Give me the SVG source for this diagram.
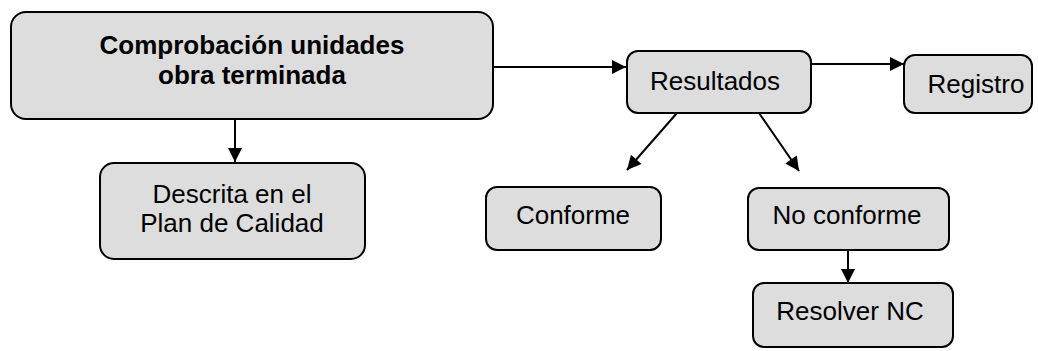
<svg xmlns="http://www.w3.org/2000/svg" width="1038" height="351" viewBox="0 0 1038 351">
  <style>
    .box { fill: #dddddd; stroke: #000000; stroke-width: 2; }
    .lbl { font-family: "Liberation Sans", Arial, sans-serif; font-size: 26px; fill: #000000; text-anchor: middle; }
    .bold { font-weight: bold; }
    .link { fill: none; stroke: #000000; stroke-width: 2; marker-end: url(#arrow); }
  </style>
  <defs>
    <marker id="arrow" markerUnits="userSpaceOnUse" markerWidth="16" markerHeight="16" viewBox="0 0 16 16" refX="15" refY="8" orient="auto">
      <path d="M1,1 L15,8 L1,15 Z" fill="#000000"/>
    </marker>
  </defs>

  <!-- connectors -->
  <g id="connectors">
    <line class="link" x1="493" y1="67" x2="626" y2="67"/>
    <line class="link" x1="811" y1="64" x2="904" y2="64"/>
    <line class="link" x1="235" y1="119" x2="235" y2="162"/>
    <line class="link" x1="677" y1="113" x2="627" y2="170"/>
    <line class="link" x1="759" y1="113" x2="799" y2="171"/>
    <line class="link" x1="848" y1="250" x2="848" y2="283"/>
  </g>

  <g id="node-comprobacion">
    <rect class="box" x="11" y="12" width="482" height="107" rx="15" ry="15"/>
    <text class="lbl bold" x="252" y="54">Comprobación unidades</text>
    <text class="lbl bold" x="252" y="84">obra terminada</text>
  </g>

  <g id="node-descrita">
    <rect class="box" x="100" y="163" width="265" height="96" rx="14" ry="14"/>
    <text class="lbl" x="232" y="203">Descrita en el</text>
    <text class="lbl" x="232" y="232">Plan de Calidad</text>
  </g>

  <g id="node-resultados">
    <rect class="box" x="627" y="51" width="184" height="62" rx="11" ry="11"/>
    <text class="lbl" x="715" y="90">Resultados</text>
  </g>

  <g id="node-registro">
    <rect class="box" x="904" y="55" width="128" height="58" rx="11" ry="11"/>
    <text class="lbl" x="976" y="93">Registro</text>
  </g>

  <g id="node-conforme">
    <rect class="box" x="486" y="187" width="175" height="63" rx="11" ry="11"/>
    <text class="lbl" x="573" y="224">Conforme</text>
  </g>

  <g id="node-no-conforme">
    <rect class="box" x="748" y="188" width="201" height="62" rx="11" ry="11"/>
    <text class="lbl" x="847" y="224">No conforme</text>
  </g>

  <g id="node-resolver">
    <rect class="box" x="753" y="283" width="200" height="64" rx="11" ry="11"/>
    <text class="lbl" x="850" y="320">Resolver NC</text>
  </g>
</svg>
